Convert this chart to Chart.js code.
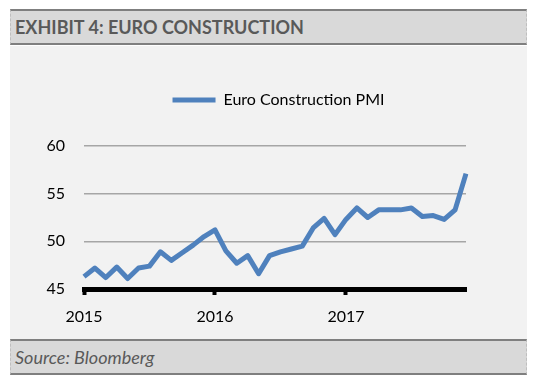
<!DOCTYPE html>
<html>
<head>
<meta charset="utf-8">
<script src="https://cdn.jsdelivr.net/npm/chart.js@4"></script>
<style>
    body { margin: 0; background: #fff; width: 539px; height: 389px; position: relative; font-family: Lato, "Open Sans", sans-serif; }
    .band {
        position: absolute; left: 10px; width: 515px; height: 32px;
        background: #d9d9d9; border-top: 2px solid #7f7f7f; border-bottom: 2px solid #7f7f7f;
        border-left: 1px dashed #bfbfbf; border-right: 1px dashed #bfbfbf;
        color: #595959; line-height: 32px; padding-left: 0;
    }
    #title { top: 9px; font-weight: bold; font-size: 18px; }
    #source { top: 339px; font-style: italic; font-size: 18px; }
    .band span { margin-left: 4px; }
    #box { position: absolute; left: 10px; top: 46px; width: 517px; height: 293px; background: #f2f2f2; }
</style>
</head>
<body>
<div class="band" id="title"><span>EXHIBIT 4: EURO CONSTRUCTION</span></div>
<div id="box"><canvas id="line"></canvas></div>
<div class="band" id="source"><span>Source: Bloomberg</span></div>
<script>
const years = ['2015', '2016', '2017'];
const months = ['Jan', 'Feb', 'Mar', 'Apr', 'May', 'Jun', 'Jul', 'Aug', 'Sep', 'Oct', 'Nov', 'Dec'];
const pmi = [46.3, 47.2, 46.2, 47.3, 46.1, 47.2, 47.4, 48.9, 48.0, 48.8, 49.6, 50.5,
             51.2, 49.0, 47.7, 48.5, 46.6, 48.5, 48.9, 49.2, 49.5, 51.4, 52.4, 50.7,
             52.3, 53.5, 52.5, 53.3, 53.3, 53.3, 53.5, 52.6, 52.7, 52.3, 53.3, 57.1];
const yTicks = [45, 50, 55, 60];

const labels = [];
for (const y of years) {
    for (const m of months) {
        labels.push(m + ' ' + y);
    }
}

function isYearStart(i) {
    return i % 12 === 0;
}

// extra room between the legend and the plot
const legendGap = {
    id: 'legendGap',
    beforeInit(chart) {
        const fit = chart.legend.fit;
        chart.legend.fit = function () {
            fit.bind(chart.legend)();
            this.height += 28;
        };
    }
};

function chart(id) {
    const ctx = document.getElementById(id);
    Chart.defaults.font.family = 'Lato, "Open Sans", sans-serif';
    Chart.defaults.color = '#000';

    new Chart(ctx, {
        type: 'line',
        data: {
            labels: labels,
            datasets: [{
                label: 'Euro Construction PMI',
                data: pmi,
                borderColor: '#4f81bd',
                backgroundColor: '#4f81bd',
                borderWidth: 5,
                borderJoinStyle: 'round',
                pointRadius: 0,
                tension: 0
            }]
        },
        options: {
            responsive: true,
            maintainAspectRatio: false,
            animation: false,
            layout: { padding: { left: 20, top: 28, right: 0, bottom: 0 } },
            plugins: {
                tooltip: { enabled: false },
                legend: {
                    position: 'top',
                    labels: {
                        boxWidth: 43,
                        boxHeight: 5,
                        padding: 18,
                        font: { size: 16 },
                        color: '#000',
                        generateLabels: (c) => {
                            const items = Chart.defaults.plugins.legend.labels.generateLabels(c);
                            items.forEach(it => { it.lineWidth = 0; });
                            return items;
                        }
                    }
                }
            },
            scales: {
                x: {
                    type: 'category',
                    offset: false,
                    border: { display: true, color: '#000', width: 5 },
                    grid: {
                        display: true,
                        drawOnChartArea: false,
                        drawTicks: true,
                        tickLength: 6,
                        tickWidth: 4,
                        color: (c) => isYearStart(c.index) ? '#000' : 'rgba(0,0,0,0)'
                    },
                    ticks: {
                        autoSkip: false,
                        maxRotation: 0,
                        padding: 12,
                        font: { size: 16 },
                        callback: (v, i) => isYearStart(i) ? labels[i].slice(4) : ''
                    },
                    afterFit: (s) => { s.height = 50; }
                },
                y: {
                    min: 45,
                    max: 60,
                    border: { display: false },
                    grid: {
                        drawTicks: false,
                        lineWidth: 1.5,
                        color: (c) => c.tick && c.tick.value === 45 ? 'rgba(0,0,0,0)' : '#a6a6a6'
                    },
                    afterBuildTicks: (s) => { s.ticks = yTicks.map(v => ({ value: v })); },
                    ticks: { padding: 19, font: { size: 16 } },
                    afterFit: (s) => { s.width = 54; }
                },
                right: {
                    type: 'linear',
                    position: 'right',
                    display: true,
                    border: { display: false },
                    grid: { display: false },
                    ticks: { display: false },
                    afterFit: (s) => { s.width = 61; }
                }
            }
        },
        plugins: [legendGap]
    });
}

chart('line');
</script>
</body>
</html>
